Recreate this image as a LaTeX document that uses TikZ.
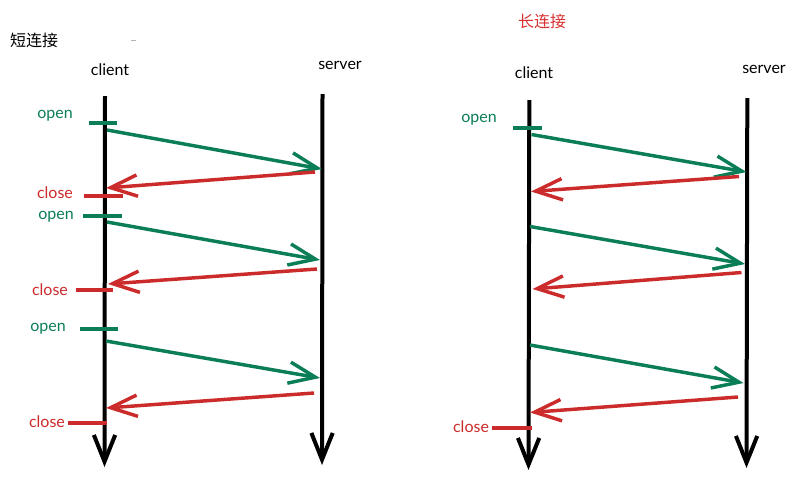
\documentclass[tikz,border=0pt]{standalone}
\usepackage{fontspec}
\newfontfamily\hand{Lato}
\newfontfamily\cjk{Noto Sans CJK SC}
\usetikzlibrary{arrows.meta}
\definecolor{gr}{HTML}{0B7D57}
\definecolor{rd}{HTML}{CC2B2B}
\definecolor{rdt}{HTML}{D93030}
\tikzset{
  barb/.tip={Straight Barb[length=20pt,width=16pt]},
  life/.style={line width=3pt,black,-barb},
  gmsg/.style={line width=2.6pt,gr,-barb},
  rmsg/.style={line width=2.6pt,rd,-barb},
  gtick/.style={line width=3pt,gr},
  rtick/.style={line width=3pt,rd},
  lbl/.style={inner sep=0pt,font=\hand\fontsize{12}{13}\selectfont},
  ttl/.style={inner sep=0pt,font=\cjk\fontsize{12}{14}\selectfont},
}
\begin{document}
\begin{tikzpicture}[x=0.75pt,y=-0.75pt]
\useasboundingbox (0,0) rectangle (798,480);

% ---------------- left: short connection ----------------
\node[ttl] (t1) at (34,40) {短连接};
\coordinate (gd1) at (131,40); \coordinate (gd2) at (136,40);
\draw[gray!60,line width=0.6pt] (gd1) -- (gd2);
\node[lbl] (lc) at (110,70) {client};
\node[lbl] (ls) at (340,65) {server};

\coordinate (lcT) at (105,96);  \coordinate (lcB) at (104.5,467);
\coordinate (lsT) at (322.5,94); \coordinate (lsB) at (322,465);
\draw[life] (lcT) -- (lcB);
\draw[life] (lsT) -- (lsB);

% round 1
\node[lbl,gr] (o1) at (55,116) {open};
\coordinate (o1a) at (89,123); \coordinate (o1b) at (117,123);
\draw[gtick] (o1a) -- (o1b);
\coordinate (g1s) at (107,130); \coordinate (g1e) at (322,169);
\draw[gmsg] (g1s) -- (g1e);
\coordinate (r1s) at (315,172); \coordinate (r1e) at (106,188);
\draw[rmsg] (r1s) -- (r1e);
\node[lbl,rd] (c1) at (55,193) {close};
\coordinate (c1a) at (84,195.5); \coordinate (c1b) at (123,195.5);
\draw[rtick] (c1a) -- (c1b);

% round 2
\node[lbl,gr] (o2) at (56,217) {open};
\coordinate (o2a) at (83,215.5); \coordinate (o2b) at (122,215.5);
\draw[gtick] (o2a) -- (o2b);
\coordinate (g2s) at (107,222); \coordinate (g2e) at (320,260);
\draw[gmsg] (g2s) -- (g2e);
\coordinate (r2s) at (317,269); \coordinate (r2e) at (108,284);
\draw[rmsg] (r2s) -- (r2e);
\node[lbl,rd] (c2) at (50,289.5) {close};
\coordinate (c2a) at (76,289.5); \coordinate (c2b) at (113,289.5);
\draw[rtick] (c2a) -- (c2b);

% round 3
\node[lbl,gr] (o3) at (48,329) {open};
\coordinate (o3a) at (80,329); \coordinate (o3b) at (118,329);
\draw[gtick] (o3a) -- (o3b);
\coordinate (g3s) at (106,341); \coordinate (g3e) at (320,378);
\draw[gmsg] (g3s) -- (g3e);
\coordinate (r3s) at (314,393); \coordinate (r3e) at (106,408);
\draw[rmsg] (r3s) -- (r3e);
\node[lbl,rd] (c3) at (47,421.5) {close};
\coordinate (c3a) at (68,423); \coordinate (c3b) at (107,423);
\draw[rtick] (c3a) -- (c3b);

% ---------------- right: long connection ----------------
\node[ttl,rdt] (t2) at (542,21) {长连接};
\node[lbl] (rc) at (534,73) {client};
\node[lbl] (rs) at (764,69) {server};

\coordinate (rcT) at (529.3,100); \coordinate (rcB) at (528.5,470);
\coordinate (rsT) at (747.3,98);  \coordinate (rsB) at (746.5,468);
\draw[life] (rcT) -- (rcB);
\draw[life] (rsT) -- (rsB);

\node[lbl,gr] (ro) at (479,120) {open};
\coordinate (roa) at (513,127.5); \coordinate (rob) at (542,127.5);
\draw[gtick] (roa) -- (rob);

\coordinate (rg1s) at (531.5,134.5); \coordinate (rg1e) at (746.5,172);
\draw[gmsg] (rg1s) -- (rg1e);
\coordinate (rr1s) at (739,176.5); \coordinate (rr1e) at (531,191.5);
\draw[rmsg] (rr1s) -- (rr1e);

\coordinate (rg2s) at (530,226.5); \coordinate (rg2e) at (745,264);
\draw[gmsg] (rg2s) -- (rg2e);
\coordinate (rr2s) at (741.5,272.5); \coordinate (rr2e) at (532.5,289);
\draw[rmsg] (rr2s) -- (rr2e);

\coordinate (rg3s) at (530,345); \coordinate (rg3e) at (743.5,383);
\draw[gmsg] (rg3s) -- (rg3e);
\coordinate (rr3s) at (738,397); \coordinate (rr3e) at (530,412.5);
\draw[rmsg] (rr3s) -- (rr3e);

\node[lbl,rd] (rcl) at (471,426.5) {close};
\coordinate (rca) at (492,427.5); \coordinate (rcb) at (531.5,427.5);
\draw[rtick] (rca) -- (rcb);
\end{tikzpicture}
\end{document}
